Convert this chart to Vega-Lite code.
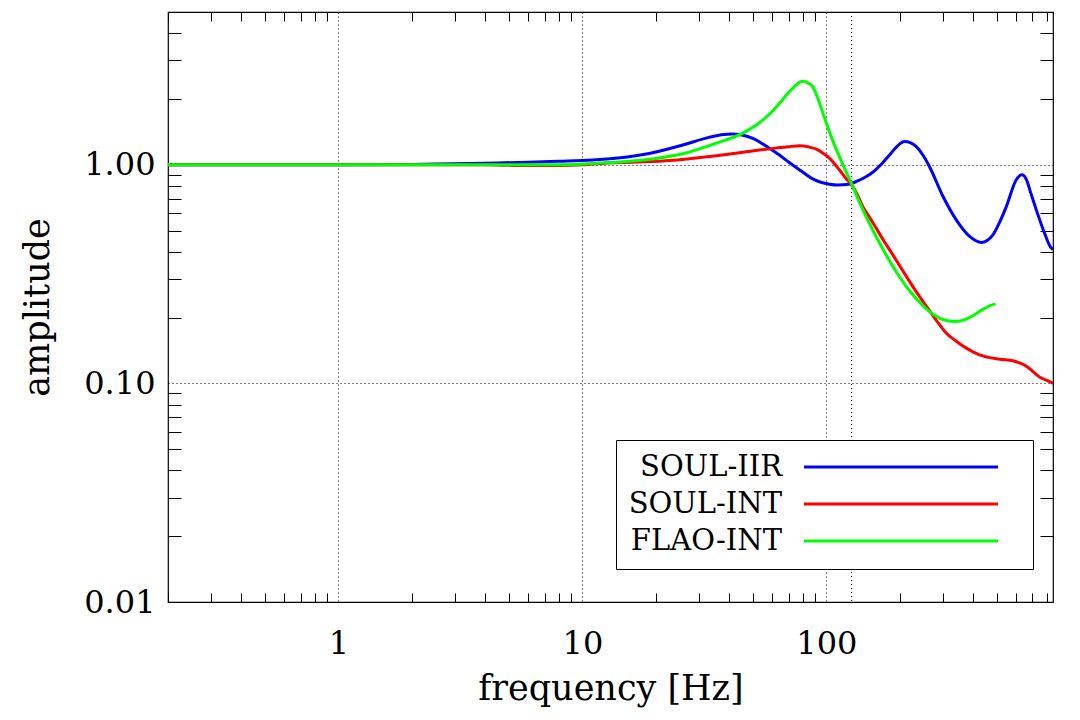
{
  "$schema": "https://vega.github.io/schema/vega-lite/v6.json",
  "width": 885,
  "height": 590,
  "autosize": "none",
  "padding": {"left": 168, "top": 12, "right": 27, "bottom": 118},
  "background": "white",
  "config": {
    "view": {"stroke": "black", "strokeWidth": 1.2},
    "font": "DejaVu Serif"
  },
  "datasets": {
    "curves": [
      {"series": "SOUL-IIR", "f": 0.2, "a": 1.0},
      {"series": "SOUL-IIR", "f": 1, "a": 1.0},
      {"series": "SOUL-IIR", "f": 2, "a": 1.004},
      {"series": "SOUL-IIR", "f": 3, "a": 1.012},
      {"series": "SOUL-IIR", "f": 4.5, "a": 1.02},
      {"series": "SOUL-IIR", "f": 6, "a": 1.028},
      {"series": "SOUL-IIR", "f": 8, "a": 1.038},
      {"series": "SOUL-IIR", "f": 11, "a": 1.052},
      {"series": "SOUL-IIR", "f": 14, "a": 1.075},
      {"series": "SOUL-IIR", "f": 19, "a": 1.13},
      {"series": "SOUL-IIR", "f": 26, "a": 1.235},
      {"series": "SOUL-IIR", "f": 33, "a": 1.335},
      {"series": "SOUL-IIR", "f": 38, "a": 1.375},
      {"series": "SOUL-IIR", "f": 41, "a": 1.382},
      {"series": "SOUL-IIR", "f": 45, "a": 1.37},
      {"series": "SOUL-IIR", "f": 50, "a": 1.32},
      {"series": "SOUL-IIR", "f": 57, "a": 1.213},
      {"series": "SOUL-IIR", "f": 64, "a": 1.111},
      {"series": "SOUL-IIR", "f": 70, "a": 1.03},
      {"series": "SOUL-IIR", "f": 77, "a": 0.955},
      {"series": "SOUL-IIR", "f": 88, "a": 0.862},
      {"series": "SOUL-IIR", "f": 95, "a": 0.832},
      {"series": "SOUL-IIR", "f": 103, "a": 0.815},
      {"series": "SOUL-IIR", "f": 112, "a": 0.808},
      {"series": "SOUL-IIR", "f": 121, "a": 0.812},
      {"series": "SOUL-IIR", "f": 133, "a": 0.839},
      {"series": "SOUL-IIR", "f": 146, "a": 0.884},
      {"series": "SOUL-IIR", "f": 155, "a": 0.925},
      {"series": "SOUL-IIR", "f": 170, "a": 1.02},
      {"series": "SOUL-IIR", "f": 182, "a": 1.111},
      {"series": "SOUL-IIR", "f": 195, "a": 1.215},
      {"series": "SOUL-IIR", "f": 209, "a": 1.278},
      {"series": "SOUL-IIR", "f": 222, "a": 1.26},
      {"series": "SOUL-IIR", "f": 234, "a": 1.21},
      {"series": "SOUL-IIR", "f": 250, "a": 1.1},
      {"series": "SOUL-IIR", "f": 265, "a": 0.98},
      {"series": "SOUL-IIR", "f": 301, "a": 0.716},
      {"series": "SOUL-IIR", "f": 341, "a": 0.56},
      {"series": "SOUL-IIR", "f": 387, "a": 0.47},
      {"series": "SOUL-IIR", "f": 432, "a": 0.441},
      {"series": "SOUL-IIR", "f": 482, "a": 0.478},
      {"series": "SOUL-IIR", "f": 515, "a": 0.55},
      {"series": "SOUL-IIR", "f": 547, "a": 0.644},
      {"series": "SOUL-IIR", "f": 601, "a": 0.854},
      {"series": "SOUL-IIR", "f": 634, "a": 0.9},
      {"series": "SOUL-IIR", "f": 660, "a": 0.86},
      {"series": "SOUL-IIR", "f": 690, "a": 0.74},
      {"series": "SOUL-IIR", "f": 726, "a": 0.622},
      {"series": "SOUL-IIR", "f": 785, "a": 0.486},
      {"series": "SOUL-IIR", "f": 836, "a": 0.416},
      {"series": "SOUL-IIR", "f": 850, "a": 0.41},
      {"series": "SOUL-INT", "f": 0.2, "a": 1.0},
      {"series": "SOUL-INT", "f": 4, "a": 1.0},
      {"series": "SOUL-INT", "f": 5.5, "a": 0.993},
      {"series": "SOUL-INT", "f": 8, "a": 0.993},
      {"series": "SOUL-INT", "f": 10, "a": 1.0},
      {"series": "SOUL-INT", "f": 12, "a": 1.015},
      {"series": "SOUL-INT", "f": 22, "a": 1.043},
      {"series": "SOUL-INT", "f": 35.5, "a": 1.1},
      {"series": "SOUL-INT", "f": 48, "a": 1.15},
      {"series": "SOUL-INT", "f": 62, "a": 1.192},
      {"series": "SOUL-INT", "f": 70, "a": 1.21},
      {"series": "SOUL-INT", "f": 78, "a": 1.222},
      {"series": "SOUL-INT", "f": 85, "a": 1.205},
      {"series": "SOUL-INT", "f": 91, "a": 1.18},
      {"series": "SOUL-INT", "f": 97, "a": 1.13},
      {"series": "SOUL-INT", "f": 103, "a": 1.073},
      {"series": "SOUL-INT", "f": 113, "a": 0.949},
      {"series": "SOUL-INT", "f": 120, "a": 0.87},
      {"series": "SOUL-INT", "f": 127, "a": 0.81},
      {"series": "SOUL-INT", "f": 134, "a": 0.73},
      {"series": "SOUL-INT", "f": 141, "a": 0.645},
      {"series": "SOUL-INT", "f": 150, "a": 0.578},
      {"series": "SOUL-INT", "f": 160, "a": 0.514},
      {"series": "SOUL-INT", "f": 171, "a": 0.454},
      {"series": "SOUL-INT", "f": 187.5, "a": 0.387},
      {"series": "SOUL-INT", "f": 203, "a": 0.336},
      {"series": "SOUL-INT", "f": 234, "a": 0.262},
      {"series": "SOUL-INT", "f": 265, "a": 0.215},
      {"series": "SOUL-INT", "f": 292, "a": 0.185},
      {"series": "SOUL-INT", "f": 310, "a": 0.17},
      {"series": "SOUL-INT", "f": 341, "a": 0.156},
      {"series": "SOUL-INT", "f": 375, "a": 0.145},
      {"series": "SOUL-INT", "f": 425, "a": 0.135},
      {"series": "SOUL-INT", "f": 513, "a": 0.129},
      {"series": "SOUL-INT", "f": 582, "a": 0.127},
      {"series": "SOUL-INT", "f": 620, "a": 0.124},
      {"series": "SOUL-INT", "f": 660, "a": 0.12},
      {"series": "SOUL-INT", "f": 748, "a": 0.107},
      {"series": "SOUL-INT", "f": 836, "a": 0.101},
      {"series": "SOUL-INT", "f": 850, "a": 0.1},
      {"series": "FLAO-INT", "f": 0.2, "a": 1.0},
      {"series": "FLAO-INT", "f": 8, "a": 1.0},
      {"series": "FLAO-INT", "f": 11.8, "a": 1.018},
      {"series": "FLAO-INT", "f": 18.9, "a": 1.06},
      {"series": "FLAO-INT", "f": 25.8, "a": 1.123},
      {"series": "FLAO-INT", "f": 35.5, "a": 1.257},
      {"series": "FLAO-INT", "f": 45.5, "a": 1.397},
      {"series": "FLAO-INT", "f": 53, "a": 1.552},
      {"series": "FLAO-INT", "f": 59, "a": 1.72},
      {"series": "FLAO-INT", "f": 64.4, "a": 1.915},
      {"series": "FLAO-INT", "f": 70, "a": 2.14},
      {"series": "FLAO-INT", "f": 74, "a": 2.28},
      {"series": "FLAO-INT", "f": 77, "a": 2.37},
      {"series": "FLAO-INT", "f": 80, "a": 2.41},
      {"series": "FLAO-INT", "f": 84, "a": 2.37},
      {"series": "FLAO-INT", "f": 88, "a": 2.28},
      {"series": "FLAO-INT", "f": 92, "a": 2.03},
      {"series": "FLAO-INT", "f": 96.8, "a": 1.725},
      {"series": "FLAO-INT", "f": 106, "a": 1.3},
      {"series": "FLAO-INT", "f": 117, "a": 1.0},
      {"series": "FLAO-INT", "f": 126.6, "a": 0.824},
      {"series": "FLAO-INT", "f": 141.3, "a": 0.622},
      {"series": "FLAO-INT", "f": 160, "a": 0.47},
      {"series": "FLAO-INT", "f": 176, "a": 0.387},
      {"series": "FLAO-INT", "f": 187.5, "a": 0.343},
      {"series": "FLAO-INT", "f": 200, "a": 0.306},
      {"series": "FLAO-INT", "f": 226, "a": 0.255},
      {"series": "FLAO-INT", "f": 234, "a": 0.244},
      {"series": "FLAO-INT", "f": 265, "a": 0.213},
      {"series": "FLAO-INT", "f": 300, "a": 0.196},
      {"series": "FLAO-INT", "f": 336, "a": 0.192},
      {"series": "FLAO-INT", "f": 375, "a": 0.197},
      {"series": "FLAO-INT", "f": 399, "a": 0.204},
      {"series": "FLAO-INT", "f": 438, "a": 0.218},
      {"series": "FLAO-INT", "f": 470, "a": 0.227},
      {"series": "FLAO-INT", "f": 494, "a": 0.231}
    ],
    "marker": [{"f": 127}]
  },
  "data": {"name": "curves"},
  "layer": [
    {
      "data": {"name": "marker"},
      "mark": {"type": "rule", "color": "black", "strokeWidth": 1, "strokeDash": [1, 3]},
      "encoding": {
        "x": {"field": "f", "type": "quantitative", "scale": {"type": "log", "domain": [0.2, 850], "nice": false}, "axis": null}
      }
    },
    {
      "mark": {"type": "line", "strokeWidth": 3, "interpolate": "monotone", "clip": true},
      "encoding": {
        "x": {
          "field": "f",
          "type": "quantitative",
          "scale": {"type": "log", "domain": [0.2, 850], "nice": false},
          "axis": {
            "orient": "bottom",
            "values": [0.2, 0.3, 0.4, 0.5, 0.6, 0.7, 0.8, 0.9, 1, 2, 3, 4, 5, 6, 7, 8, 9, 10, 20, 30, 40, 50, 60, 70, 80, 90, 100, 200, 300, 400, 500, 600, 700, 800],
            "labelExpr": "datum.value === 1 || datum.value === 10 || datum.value === 100 ? format(datum.value, 'd') : ''",
            "domain": false,
            "tickSize": -9,
            "tickColor": "black",
            "tickWidth": 1,
            "tickOpacity": {"condition": {"test": "datum.value === 1 || datum.value === 10 || datum.value === 100", "value": 0}, "value": 1},
            "grid": true,
            "gridColor": "black",
            "gridWidth": 1,
            "gridDash": [1, 3],
            "gridOpacity": {"condition": {"test": "datum.value === 1 || datum.value === 10 || datum.value === 100", "value": 1}, "value": 0},
            "labelFont": "DejaVu Serif",
            "labelFontSize": 32,
            "labelColor": "black",
            "labelPadding": 35,
            "labelOverlap": false,
            "labelFlush": false,
            "labelBound": false,
            "title": "frequency [Hz]",
            "titleFont": "DejaVu Serif",
            "titleFontSize": 35,
            "titleFontWeight": "normal",
            "titleColor": "black",
            "titlePadding": 12
          }
        },
        "y": {
          "field": "a",
          "type": "quantitative",
          "scale": {"type": "log", "domain": [0.01, 5], "nice": false},
          "axis": {
            "orient": "left",
            "values": [0.01, 0.02, 0.03, 0.04, 0.05, 0.06, 0.07, 0.08, 0.09, 0.1, 0.2, 0.3, 0.4, 0.5, 0.6, 0.7, 0.8, 0.9, 1, 2, 3, 4, 5],
            "labelExpr": "datum.value === 1 || datum.value === 0.1 || datum.value === 0.01 ? format(datum.value, '.2f') : ''",
            "domain": false,
            "tickSize": -13,
            "tickColor": "black",
            "tickWidth": 1,
            "tickOpacity": {"condition": {"test": "datum.value === 1 || datum.value === 0.1 || datum.value === 0.01", "value": 0}, "value": 1},
            "grid": true,
            "gridColor": "black",
            "gridWidth": 1,
            "gridDash": [1, 3],
            "gridOpacity": {"condition": {"test": "datum.value === 1 || datum.value === 0.1", "value": 1}, "value": 0},
            "labelFont": "DejaVu Serif",
            "labelFontSize": 32,
            "labelColor": "black",
            "labelPadding": 26,
            "labelOverlap": false,
            "labelFlush": false,
            "labelBound": false,
            "title": "amplitude",
            "titleFont": "DejaVu Serif",
            "titleFontSize": 35,
            "titleFontWeight": "normal",
            "titleColor": "black",
            "titlePadding": 28
          }
        },
        "color": {
          "field": "series",
          "type": "nominal",
          "scale": {"domain": ["SOUL-IIR", "SOUL-INT", "FLAO-INT"], "range": ["#0000ff", "#ff0000", "#00ff00"]},
          "legend": {
            "orient": "none",
            "legendX": 448,
            "legendY": 428,
            "title": null,
            "symbolType": "M 161 0 L 355 0 M 371 0",
            "symbolSize": 4,
            "symbolStrokeWidth": 3,
            "labelFont": "DejaVu Serif",
            "labelFontSize": 29,
            "labelColor": "black",
            "labelAlign": "right",
            "labelOffset": 124.5,
            "labelLimit": 400,
            "rowPadding": 7,
            "padding": 12.5,
            "strokeColor": "black",
            "fillColor": "white"
          }
        }
      }
    },
    {
      "mark": {"type": "line", "opacity": 0},
      "encoding": {
        "x": {
          "field": "f",
          "type": "quantitative",
          "scale": {"type": "log", "domain": [0.2, 850], "nice": false},
          "axis": {
            "orient": "top",
            "values": [0.2, 0.3, 0.4, 0.5, 0.6, 0.7, 0.8, 0.9, 1, 2, 3, 4, 5, 6, 7, 8, 9, 10, 20, 30, 40, 50, 60, 70, 80, 90, 100, 200, 300, 400, 500, 600, 700, 800],
            "labels": false,
            "domain": false,
            "grid": false,
            "title": null,
            "tickSize": -9,
            "tickColor": "black",
            "tickWidth": 1,
            "tickOpacity": {"condition": {"test": "datum.value === 1 || datum.value === 10 || datum.value === 100", "value": 0}, "value": 1}
          }
        },
        "y": {
          "field": "a",
          "type": "quantitative",
          "scale": {"type": "log", "domain": [0.01, 5], "nice": false},
          "axis": {
            "orient": "right",
            "values": [0.01, 0.02, 0.03, 0.04, 0.05, 0.06, 0.07, 0.08, 0.09, 0.1, 0.2, 0.3, 0.4, 0.5, 0.6, 0.7, 0.8, 0.9, 1, 2, 3, 4, 5],
            "labels": false,
            "domain": false,
            "grid": false,
            "title": null,
            "tickSize": -13,
            "tickColor": "black",
            "tickWidth": 1,
            "tickOpacity": {"condition": {"test": "datum.value === 1 || datum.value === 0.1 || datum.value === 0.01", "value": 0}, "value": 1}
          }
        }
      }
    }
  ],
  "resolve": {"axis": {"x": "independent", "y": "independent"}}
}
